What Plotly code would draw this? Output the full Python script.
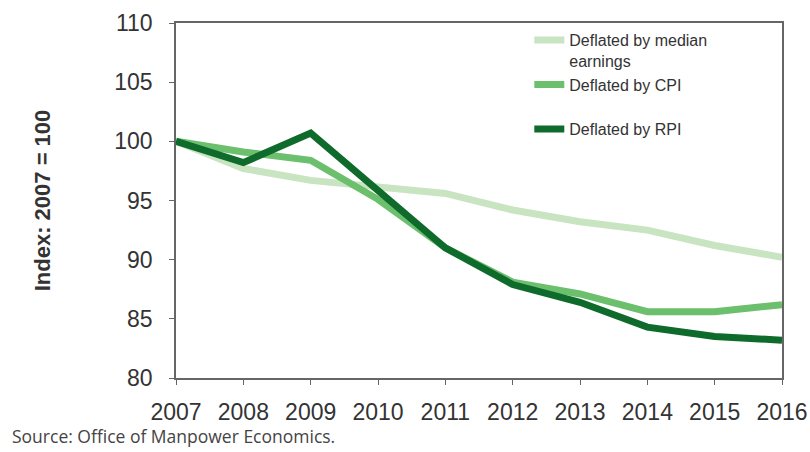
import plotly.graph_objects as go

years = [2007, 2008, 2009, 2010, 2011, 2012, 2013, 2014, 2015, 2016]
median_earnings = [100.0, 97.7, 96.7, 96.2, 95.6, 94.2, 93.2, 92.5, 91.2, 90.2]
cpi = [100.0, 99.1, 98.4, 95.1, 91.0, 88.1, 87.1, 85.6, 85.6, 86.2]
rpi = [100.0, 98.2, 100.7, 95.8, 91.0, 87.9, 86.4, 84.3, 83.5, 83.2]

names = ["Deflated by median<br>earnings", "Deflated by CPI<br>\u00a0", "Deflated by RPI"]
colors = ["#c9e4c1", "#6cbf6c", "#0f6b2b"]
series = [median_earnings, cpi, rpi]

fig = go.Figure()
for name, col, vals in zip(names, colors, series):
    fig.add_trace(go.Scatter(x=years, y=vals, mode="lines", name=name,
                             line=dict(color=col, width=7)))

axis_common = dict(showline=True, linecolor="#666666", linewidth=1.5, mirror=True,
                   ticks="outside", ticklen=5, tickcolor="#666666", showgrid=False,
                   zeroline=False, automargin=False,
                   tickfont=dict(family="Arial", size=23, color="#333333"))

fig.update_layout(
    width=810, height=452,
    margin=dict(l=176, r=28, t=23, b=74),
    paper_bgcolor="white", plot_bgcolor="white",
    showlegend=True,
    legend=dict(x=0.583, y=1.0, xanchor="left", yanchor="top", bgcolor="rgba(0,0,0,0)",
                font=dict(family="Arial", size=16, color="#333333"), valign="top",
                tracegroupgap=0),
    xaxis=dict(range=[2007, 2016], tickvals=years, ticklabelstandoff=8, **axis_common),
    yaxis=dict(range=[80, 110], tickvals=[80, 85, 90, 95, 100, 105, 110], ticklabelstandoff=12,
               title=dict(text="Index: 2007 = 100", standoff=58,
                          font=dict(family="Arial", size=22, color="#333333", weight="bold")),
               **axis_common),
    annotations=[dict(text="Source: Office of Manpower Economics.", xref="paper", yref="paper",
                      x=-0.274, y=-0.163, xanchor="left", yanchor="middle", showarrow=False,
                      font=dict(family="Open Sans", size=17.5, color="#444444"))],
)

# remove the default 8px page margin so the 810x452 figure fills the window exactly
fig.write_html("out.html",
               config={"displayModeBar": False},
               post_script="document.body.style.margin='0';document.body.style.overflow='hidden';")
